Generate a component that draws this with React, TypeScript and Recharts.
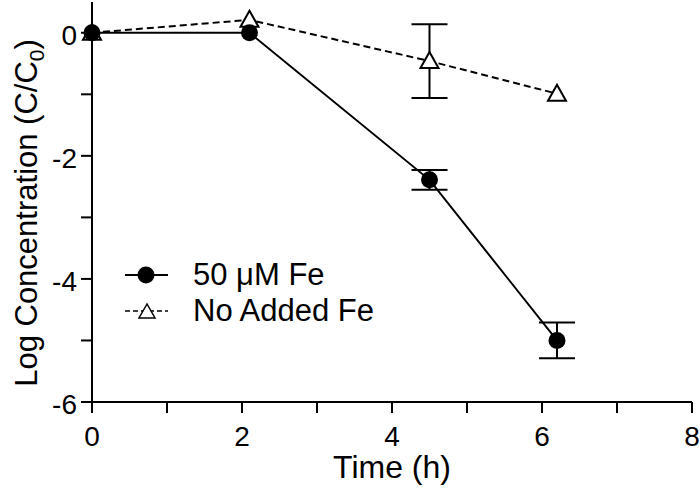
import React from "react";
import { ComposedChart, Line, XAxis, YAxis, ErrorBar, Legend } from "recharts";

const times = [0, 2.1, 4.5, 6.2];
const withFe = [0, 0, -2.39, -5.0];
const withFeErr = [null, null, 0.16, 0.29];
const noFe = [0, 0.21, -0.46, -0.99];
const noFeErr = [null, null, 0.6, null];

const xTicks = [0, 1, 2, 3, 4, 5, 6, 7, 8];
const yTicks = [-6, -5, -4, -3, -2, -1, 0];

const data = times.map((t, i) => ({
  time: t,
  fe: withFe[i],
  feErr: withFeErr[i],
  noFe: noFe[i],
  noFeErr: noFeErr[i]
}));

const font = "'Liberation Sans', Arial, sans-serif";

function Triangle({ cx, cy }: { cx?: number; cy?: number }) {
  if (cx == null || cy == null) return null;
  const pts = `${cx},${cy - 9} ${cx - 9},${cy + 7} ${cx + 9},${cy + 7}`;
  return <polygon points={pts} fill="#fff" stroke="#000" strokeWidth={2} />;
}

function Dot({ cx, cy }: { cx?: number; cy?: number }) {
  if (cx == null || cy == null) return null;
  return <circle cx={cx} cy={cy} r={8.5} fill="#000" />;
}

function XTick(props: any) {
  const { x, y, payload } = props;
  if (payload.value % 2 !== 0) return null;
  return (
    <text x={x} y={y + 31} textAnchor="middle" fontSize={28} fontFamily={font} fill="#000">
      {payload.value}
    </text>
  );
}

function YTick(props: any) {
  const { x, y, payload } = props;
  if (payload.value % 2 !== 0) return null;
  return (
    <text x={x - 2} y={y + 12} textAnchor="end" fontSize={28} fontFamily={font} fill="#000">
      {payload.value}
    </text>
  );
}

function renderLegend() {
  return (
    <div style={{ fontFamily: font, fontSize: 31, color: "#000" }}>
      <div style={{ display: "flex", alignItems: "center", height: 36 }}>
        <svg width={73} height={30}>
          <line x1={5} y1={15} x2={48} y2={15} stroke="#000" strokeWidth={2} />
          <circle cx={26} cy={15} r={8.5} fill="#000" />
        </svg>
        <span>50 μM Fe</span>
      </div>
      <div style={{ display: "flex", alignItems: "center", height: 36 }}>
        <svg width={73} height={30}>
          <line x1={5} y1={15} x2={48} y2={15} stroke="#000" strokeWidth={1.5} strokeDasharray="5 3" />
          <polygon points="27,8 19,22 35,22" fill="#fff" stroke="#000" strokeWidth={1.5} />
        </svg>
        <span>No Added Fe</span>
      </div>
    </div>
  );
}

function YLabel() {
  return (
    <text
      transform="translate(37, 213) rotate(-90)"
      textAnchor="middle"
      fontSize={31}
      fontFamily={font}
      fill="#000"
    >
      Log Concentration (C/C<tspan fontSize={21} dy={7}>0</tspan>
      <tspan dy={-7}>)</tspan>
    </text>
  );
}

export default function App() {
  return (
    <div style={{ position: "absolute", left: 0, top: 0, width: 700, height: 493, background: "#fff" }}>
      <ComposedChart
        width={700}
        height={493}
        data={data}
        margin={{ top: 2, right: 8, bottom: 0, left: 0 }}
      >
        <XAxis
          dataKey="time"
          type="number"
          domain={[0, 8]}
          ticks={xTicks}
          interval={0}
          height={91}
          tick={<XTick />}
          tickSize={11}
          axisLine={{ stroke: "#000", strokeWidth: 2 }}
          tickLine={{ stroke: "#000", strokeWidth: 2 }}
          label={{ value: "Time (h)", position: "insideBottom", offset: 15, fontSize: 32, fontFamily: font, fill: "#000" }}
        />
        <YAxis
          type="number"
          domain={[-6, 0.5]}
          ticks={yTicks}
          interval={0}
          width={92}
          tick={<YTick />}
          tickSize={11}
          axisLine={{ stroke: "#000", strokeWidth: 2 }}
          tickLine={{ stroke: "#000", strokeWidth: 2 }}
          label={<YLabel />}
        />
        <Legend
          content={renderLegend}
          layout="vertical"
          verticalAlign="middle"
          align="center"
          wrapperStyle={{ left: 120, top: 257, width: 340 }}
        />
        <Line
          dataKey="noFe"
          stroke="#000"
          strokeWidth={2}
          strokeDasharray="7 4"
          dot={<Triangle />}
          activeDot={false}
          isAnimationActive={false}
        >
          <ErrorBar dataKey="noFeErr" direction="y" width={18} stroke="#000" strokeWidth={2} />
        </Line>
        <Line
          dataKey="fe"
          stroke="#000"
          strokeWidth={2}
          dot={<Dot />}
          activeDot={false}
          isAnimationActive={false}
        >
          <ErrorBar dataKey="feErr" direction="y" width={18} stroke="#000" strokeWidth={2} />
        </Line>
      </ComposedChart>
    </div>
  );
}
